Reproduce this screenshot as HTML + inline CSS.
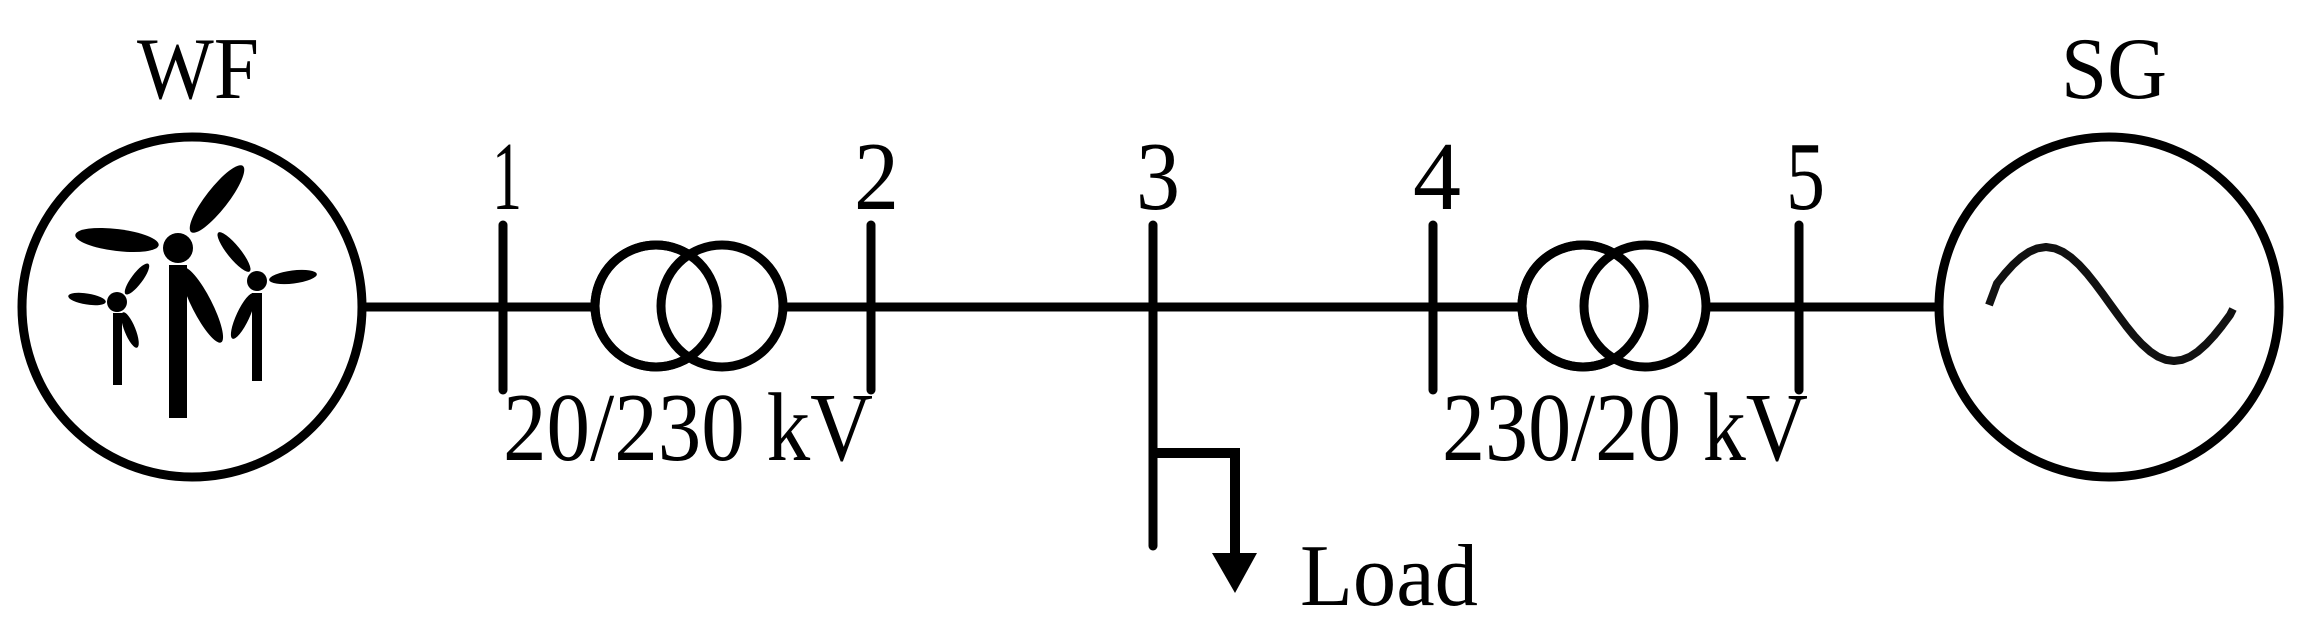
<!DOCTYPE html>
<html><head><meta charset="utf-8"><style>
html,body{margin:0;padding:0;background:#fff;}
svg{display:block;}
text{font-family:"Liberation Serif","Times New Roman",serif;fill:#000;}
</style></head><body>
<svg width="2313" height="630" viewBox="0 0 2313 630" xmlns="http://www.w3.org/2000/svg">
<g stroke="#000" fill="none">
<circle cx="192" cy="307" r="170" stroke-width="9"/>
<circle cx="2109" cy="307" r="170" stroke-width="9"/>
<line x1="366" y1="307" x2="1935" y2="307" stroke-width="9"/>
<g stroke-width="9" stroke-linecap="round">
<line x1="503" y1="225" x2="503" y2="390"/>
<line x1="871" y1="225" x2="871" y2="390"/>
<line x1="1153" y1="225" x2="1153" y2="546"/>
<line x1="1433" y1="225" x2="1433" y2="390"/>
<line x1="1799" y1="225" x2="1799" y2="390"/>
</g>
<circle cx="656" cy="306" r="61" stroke-width="9" fill="#fff"/>
<circle cx="722" cy="306" r="61" stroke-width="9" fill="#fff"/>
<circle cx="656" cy="306" r="61" stroke-width="9"/>
<circle cx="1583" cy="306" r="61" stroke-width="9" fill="#fff"/>
<circle cx="1645" cy="306" r="61" stroke-width="9" fill="#fff"/>
<circle cx="1583" cy="306" r="61" stroke-width="9"/>
<polyline points="1153,453 1235,453 1235,556" stroke-width="10"/>
<polyline stroke="#111" stroke-width="8" stroke-linecap="butt" stroke-linejoin="round" points="1989,305 1997,283.5 2005,273.5 2013,264.7 2021,257.4 2029,251.9 2037,248.4 2046,247 2055,248.4 2063,251.9 2071,257.4 2079,264.7 2087,273.5 2095,283.5 2103,294.3 2110,304 2118,315 2126,325.8 2134,335.7 2142,344.3 2150,351.4 2158,356.7 2166,359.9 2174,361 2182,359.9 2190,356.7 2198,351.4 2206,344.3 2214,335.7 2222,325.8 2230,315 2233,309"/>
</g>
<polygon points="1212,553 1257,553 1235,593" fill="#000"/>
<g fill="#000">
<rect x="169" y="265" width="18" height="153"/>
<rect x="113" y="313" width="9" height="72"/>
<rect x="252" y="293" width="10" height="88"/>
<circle cx="178" cy="248" r="15"/>
<circle cx="117" cy="302" r="10"/>
<circle cx="257" cy="281" r="10"/>
<ellipse cx="217" cy="199" rx="42" ry="11" transform="rotate(-52 217 199)"/>
<ellipse cx="117" cy="240" rx="42" ry="11" transform="rotate(7 117 240)"/>
<ellipse cx="202" cy="305" rx="42" ry="10" transform="rotate(63 202 305)"/>
<ellipse cx="87" cy="299" rx="19" ry="5.5" transform="rotate(9 87 299)"/>
<ellipse cx="137" cy="279" rx="19" ry="5.5" transform="rotate(-53 137 279)"/>
<ellipse cx="130" cy="330" rx="19" ry="5.5" transform="rotate(68 130 330)"/>
<ellipse cx="293" cy="277" rx="24" ry="6.5" transform="rotate(-7 293 277)"/>
<ellipse cx="234" cy="252" rx="25" ry="6.5" transform="rotate(51 234 252)"/>
<ellipse cx="243" cy="316" rx="25" ry="6.5" transform="rotate(115 243 316)"/>
</g>
<g font-family="Liberation Serif, Times New Roman, serif">
<text x="137" y="98" font-size="88" textLength="122" lengthAdjust="spacingAndGlyphs">WF</text>
<text x="2061" y="98" font-size="88" textLength="106" lengthAdjust="spacingAndGlyphs">SG</text>
<text x="492" y="209" font-size="98" textLength="30" lengthAdjust="spacingAndGlyphs">1</text>
<text x="854" y="209" font-size="98" textLength="45" lengthAdjust="spacingAndGlyphs">2</text>
<text x="1136" y="209" font-size="98" textLength="44" lengthAdjust="spacingAndGlyphs">3</text>
<text x="1413" y="209" font-size="98" textLength="48" lengthAdjust="spacingAndGlyphs">4</text>
<text x="1786" y="209" font-size="98" textLength="39" lengthAdjust="spacingAndGlyphs">5</text>
<text x="503" y="460" font-size="98" textLength="370" lengthAdjust="spacingAndGlyphs">20/230 kV</text>
<text x="1442" y="460" font-size="98" textLength="366" lengthAdjust="spacingAndGlyphs">230/20 kV</text>
<text x="1300" y="605" font-size="88" textLength="178" lengthAdjust="spacingAndGlyphs">Load</text>
</g>
</svg>
</body></html>
